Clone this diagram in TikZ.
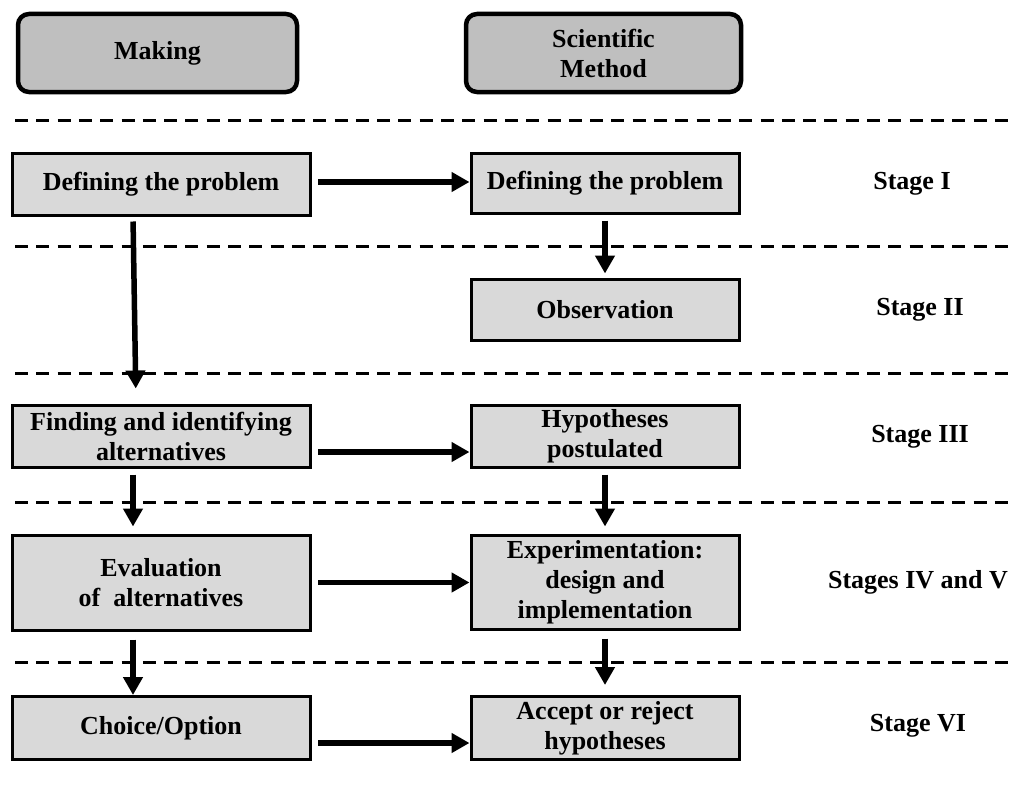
\documentclass[tikz,border=0pt]{standalone}
\usepackage{fontspec}
\setmainfont{Liberation Serif}
\usetikzlibrary{arrows.meta,calc}
\definecolor{boxgray}{HTML}{D9D9D9}
\definecolor{headgray}{HTML}{BFBFBF}
\begin{document}
\begin{tikzpicture}[x=1pt,y=-1pt,
  every node/.style={font=\bfseries\fontsize{26}{30}\selectfont, align=center},
  headbox/.style={draw=black, line width=4.5pt, rounded corners=11pt, fill=headgray,
    minimum height=78pt, inner sep=2pt},
  lbox/.style={draw=black, line width=3pt, fill=boxgray, minimum width=298pt, inner sep=2pt},
  rbox/.style={draw=black, line width=3pt, fill=boxgray, minimum width=268pt, inner sep=2pt},
  stagelbl/.style={},
  arr/.style={line width=5.5pt, -{Triangle[length=18pt,width=19pt]}},
  sep/.style={line width=3pt, dash pattern=on 13pt off 8.3pt}]
\useasboundingbox (0,0) rectangle (1012,792);
\fill[white] (0,0) rectangle (1012,792);

% headers
\node[headbox, minimum width=279pt] (hm) at (157.5,53) {Making};
\node[headbox, minimum width=275pt] (hs) at (603.5,53) {Scientific\\Method};

% separators
\foreach \yy in {120,246,373,502,662}
  \draw[sep] (15,\yy) -- (1008,\yy);

% row I
\node[lbox, minimum height=62pt] (dl) at (161,184) {Defining the problem};
\node[rbox, minimum height=60pt] (dr) at (605,183) {Defining the problem};
\node[stagelbl] (s1) at (912,184) {Stage I};

% row II
\node[rbox, minimum height=61pt] (ob) at (605,309.5) {Observation};
\node[stagelbl] (s2) at (920,310) {Stage II};

% row III
\node[lbox, minimum height=62pt] (fa) at (161,436) {Finding and identifying\\alternatives};
\node[rbox, minimum height=62pt] (hp) at (605,436) {Hypotheses\\postulated};
\node[stagelbl] (s3) at (920,437) {Stage III};

% row IV-V
\node[lbox, minimum height=95pt] (ev) at (161,582.5) {Evaluation\\of\enspace alternatives};
\node[rbox, minimum height=94pt] (ex) at (605,582) {Experimentation:\\design and\\implementation};
\node[stagelbl] (s4) at (918,582) {Stages IV and V};

% row VI
\node[lbox, minimum height=63pt] (ch) at (161,728) {Choice/Option};
\node[rbox, minimum height=63pt] (ac) at (605,728) {Accept or reject\\hypotheses};
\node[stagelbl] (s6) at (918,726) {Stage VI};

% horizontal arrows
\draw[arr, shorten <=6.5pt] ([yshift=2pt]dl.east) -- ([yshift=2pt]dl.east -| dr.west);
\draw[arr, shorten <=6.5pt] ([yshift=-16pt]fa.east) -- ([yshift=-16pt]fa.east -| hp.west);
\draw[arr, shorten <=6.5pt] (ev.east) -- (ev.east -| ex.west);
\draw[arr, shorten <=6.5pt] ([yshift=-15pt]ch.east) -- ([yshift=-15pt]ch.east -| ac.west);

% vertical arrows, right column
\draw[arr, shorten <=6pt, shorten >=4pt] (dr.south) -- (ob.north);
\draw[arr, shorten <=6pt, shorten >=7pt] (hp.south) -- (ex.north);
\draw[arr, shorten <=8pt, shorten >=10pt] (ex.south) -- (ac.north);

% vertical arrows, left column
\draw[arr, shorten <=5pt, shorten >=15pt] ([xshift=-28pt]dl.south) -- ([xshift=-25pt]fa.north);
\draw[arr, shorten <=6pt, shorten >=7pt] ([xshift=-28pt]fa.south) -- ([xshift=-28pt]ev.north);
\draw[arr, shorten <=8pt, shorten >=0pt] ([xshift=-28pt]ev.south) -- ([xshift=-28pt]ch.north);
\end{tikzpicture}
\end{document}
